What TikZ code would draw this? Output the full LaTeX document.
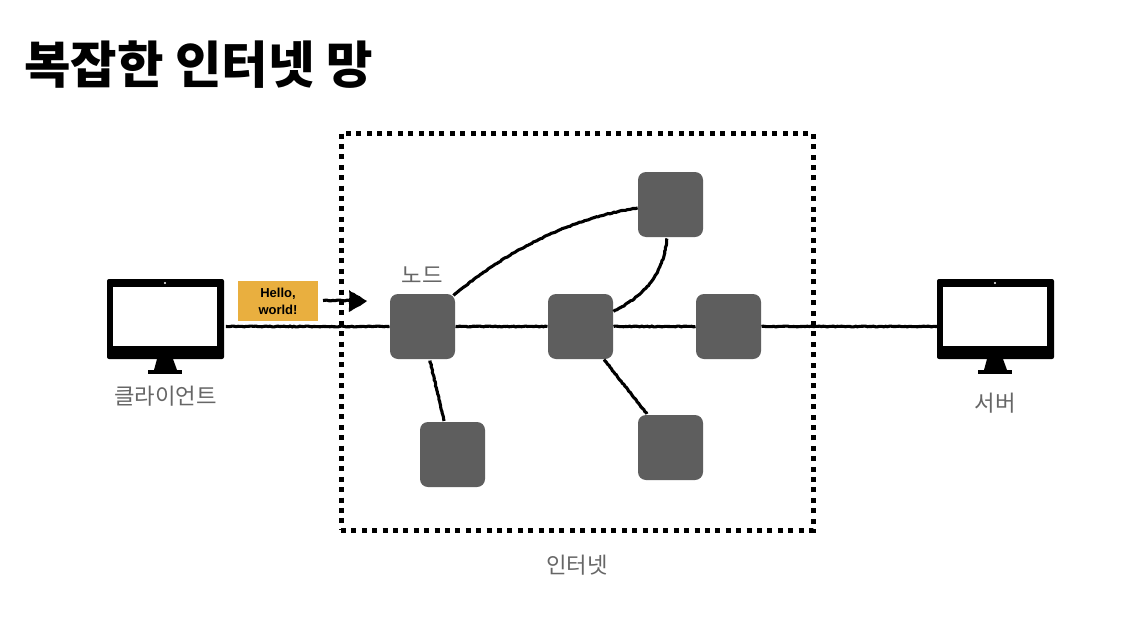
\documentclass[tikz,border=0pt]{standalone}
\usepackage{fontspec}
\setmainfont{Liberation Sans}
\newfontfamily\kr{Noto Sans CJK KR}
\usetikzlibrary{decorations.pathmorphing,calc}
\definecolor{nodegray}{HTML}{5E5E5E}
\definecolor{labelgray}{HTML}{666666}
\definecolor{noteyellow}{HTML}{E9AF3F}
\pgfmathsetseed{7}
\tikzset{
  netnode/.style={fill=nodegray,rounded corners=8pt,minimum width=65pt,minimum height=65pt,inner sep=0pt,outer sep=0.5pt},
  rough/.style={draw=black,line width=3.1pt,decorate,decoration={random steps,segment length=2pt,amplitude=0.4pt}},
  krlabel/.style={text=labelgray,font=\kr\fontsize{22.3}{25}\selectfont,inner sep=0pt},
  monbody/.style={fill=black,rounded corners=2pt,minimum width=117pt,minimum height=80pt,inner sep=0pt,outer sep=0pt},
  monscreen/.style={fill=white,minimum width=104pt,minimum height=59pt,inner sep=0pt},
  monpart/.style={fill=black,draw=none},
  netbox/.style={draw=black,line width=5pt,dash pattern=on 5pt off 5.4pt,inner sep=0pt,minimum width=472pt,minimum height=397pt},
}
\begin{document}
\begin{tikzpicture}[x=1pt,y=-1pt]
\useasboundingbox (0,0) rectangle (1142,642);
\fill[white] (0,0) rectangle (1142,642);
\node[anchor=west,inner sep=0pt,font=\kr\bfseries\fontsize{50.5}{56}\selectfont] (title) at (24,65) {복잡한 인터넷 망};
\node[netbox] (net) at (577,331.5) {};
\node[netnode] (n1) at (422.5,326.5) {};
\node[netnode] (n2) at (580.5,326.5) {};
\node[netnode] (n3) at (728.5,326.5) {};
\node[netnode] (top) at (670.5,204.5) {};
\node[netnode] (bl) at (452.5,454.5) {};
\node[netnode] (br) at (670.5,447.5) {};
% client
\node[monbody] (client) at (165.5,319) {};
\node[monscreen] (cscreen) at (165,316) {};
\fill[white] (165,283) circle (1.1);
\fill[monpart] (157,359) -- (173,359) -- (177,370) -- (154,370) -- cycle;
\fill[monpart] (148,370) rectangle (182,374);
% server
\node[monbody] (server) at (995.5,319) {};
\node[monscreen] (sscreen) at (995,316) {};
\fill[white] (995,283) circle (1.1);
\fill[monpart] (987,359) -- (1003,359) -- (1007,370) -- (984,370) -- cycle;
\fill[monpart] (978,370) rectangle (1012,374);
% connectors
\draw[rough,shorten <=2pt] (client.east |- n1.west) -- (n1.west);
\draw[rough] (n1.east) -- (n2.west);
\draw[rough] (n2.east) -- (n3.west);
\draw[rough] (n3.east) -- (server.west |- n3.east);
\draw[rough] (n1.north east) ++(-2,2) .. controls (505,252) and (570,218) .. (top.west |- 0,208);
\draw[rough] (n2.north east) ++(0,18) .. controls (645,295) and (663,275) .. (667,238.5);
\draw[rough] (430,360.5) -- (444,421);
\draw[rough] (604,359.5) -- (647,414);
% note and arrow
\node[fill=noteyellow,minimum width=80pt,minimum height=40pt,inner sep=0pt,align=center,font=\bfseries\fontsize{13}{17}\selectfont] (note) at (278,301) {Hello,\\world!};
\coordinate (astart) at (323,300.5);
\coordinate (atip) at (367,301);
\draw[rough] (astart) -- (350,300.5);
\fill[black,decorate,decoration={random steps,segment length=3pt,amplitude=0.7pt}] (349,290) -- (atip) -- (349,312) -- cycle;
% labels
\node[krlabel] (lclient) at (165.5,396) {클라이언트};
\node[krlabel] (lserver) at (995,403.5) {서버};
\node[krlabel] (lnode) at (422,275) {노드};
\node[krlabel] (lnet) at (577,565) {인터넷};
\end{tikzpicture}
\end{document}
